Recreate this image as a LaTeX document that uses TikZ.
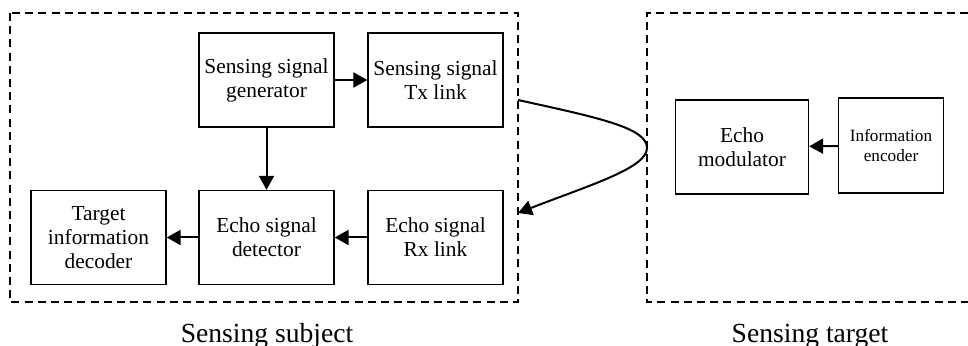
\documentclass[tikz,border=0pt]{standalone}
\usepackage{fontspec}
\setmainfont{Liberation Serif}
\usetikzlibrary{arrows.meta}
\begin{document}
\begin{tikzpicture}
  [x=0.5pt,y=-0.5pt,
   blk/.style={draw,line width=0.65pt,minimum width=67.5pt,minimum height=47pt,
     inner sep=0pt,align=center,font=\fontsize{10.7}{12}\selectfont},
   zone/.style={draw,dashed,dash pattern=on 4pt off 2.6pt,line width=0.65pt},
   arr/.style={line width=1pt,-{Triangle[length=7pt,width=7.5pt]}},
   caption/.style={anchor=base,font=\fontsize{13.8}{16}\selectfont}]
  \useasboundingbox (0,0) rectangle (968,346);
  \draw[zone] (10,13) rectangle (518,302);
  \draw[zone] (968,13) -- (647,13) -- (647,302) -- (968,302);
  \node (gen)[blk] at (266.5,80) {Sensing signal\\generator};
  \node (tx)[blk] at (435.5,80) {Sensing signal\\Tx link};
  \node (dec)[blk] at (98.5,237.5) {Target\\information\\decoder};
  \node (det)[blk] at (266.5,237.5) {Echo signal\\detector};
  \node (rx)[blk] at (435.5,237.5) {Echo signal\\Rx link};
  \node (mod)[blk,minimum width=66.5pt] at (742,147) {Echo\\modulator};
  \node (enc)[blk,minimum width=52.5pt,minimum height=47.5pt,
    font=\fontsize{8.6}{10}\selectfont] at (891,145.5) {Information\\encoder};
  \node (subj)[caption] at (267,343) {Sensing subject};
  \node (targ)[caption] at (810,343) {Sensing target};
  \coordinate (txout) at (518,100);
  \coordinate (refl) at (647,148);
  \coordinate (rxin) at (518,213);
 \foreach \from/\to in {gen/tx,gen/det,rx/det,det/dec,enc/mod}
    \draw[arr] (\from) -- (\to);
  \draw[arr] (txout) .. controls (600,118) and (647,128) .. (refl)
    .. controls (647,168) and (590,185) .. (rxin);
\end{tikzpicture}
\end{document}
